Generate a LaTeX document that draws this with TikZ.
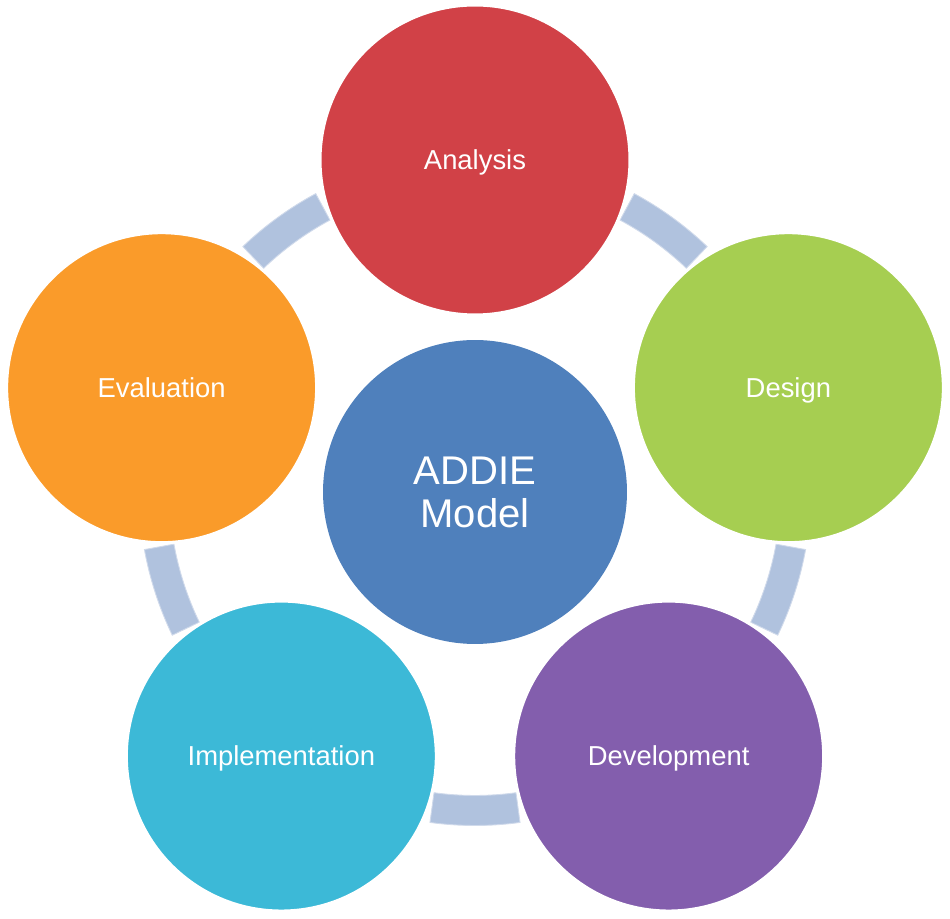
\documentclass[tikz,border=0pt]{standalone}
\usepackage{fontspec}
\setmainfont{Liberation Sans}
\usetikzlibrary{calc}
\definecolor{cAna}{HTML}{D14147}
\definecolor{cDes}{HTML}{A6CE51}
\definecolor{cDev}{HTML}{835EAD}
\definecolor{cImp}{HTML}{3CB9D7}
\definecolor{cEva}{HTML}{FA9B2A}
\definecolor{cCen}{HTML}{4F80BC}
\definecolor{ringblue}{HTML}{B0C2DE}
\begin{document}
\begin{tikzpicture}[x=0.02cm,y=0.02cm,
  phase/.style={circle, minimum size=6.2cm, inner sep=0pt, text depth=0pt, draw=white, line width=0.06cm, text=white, font=\fontsize{15.6}{18}\selectfont},
  hub/.style={circle, minimum size=6.08cm, inner sep=0pt, fill=cCen, text=white, align=center, font=\fontsize{22.8}{24.5}\selectfont},
  ringseg/.style={fill=ringblue, draw=ringblue!60!white, line width=0.5pt}]
\useasboundingbox (0,0) rectangle (950,919);
\coordinate (O) at (475,429.5);
% ring segments
\foreach \m in {126,54,-18,-90,-162}{
  \filldraw[ringseg] ($(O)+({\m-7.7}:306)$) arc[start angle={\m-7.7}, end angle={\m+7.7}, radius=306]
    -- ($(O)+({\m+7.7}:336)$) arc[start angle={\m+7.7}, end angle={\m-7.7}, radius=336] -- cycle;
}
\node[phase, fill=cAna] (ana) at ($(O)+(90:329.5)$) {Analysis};
\node[phase, fill=cDes] (des) at ($(O)+(18:329.5)$) {Design};
\node[phase, fill=cDev] (dev) at ($(O)+(-54:329.5)$) {Development};
\node[phase, fill=cImp] (imp) at ($(O)+(-126:329.5)$) {Implementation};
\node[phase, fill=cEva] (eva) at ($(O)+(162:329.5)$) {Evaluation};
\node[hub] (addie) at (475,427) {ADDIE\\Model};
\end{tikzpicture}
\end{document}
